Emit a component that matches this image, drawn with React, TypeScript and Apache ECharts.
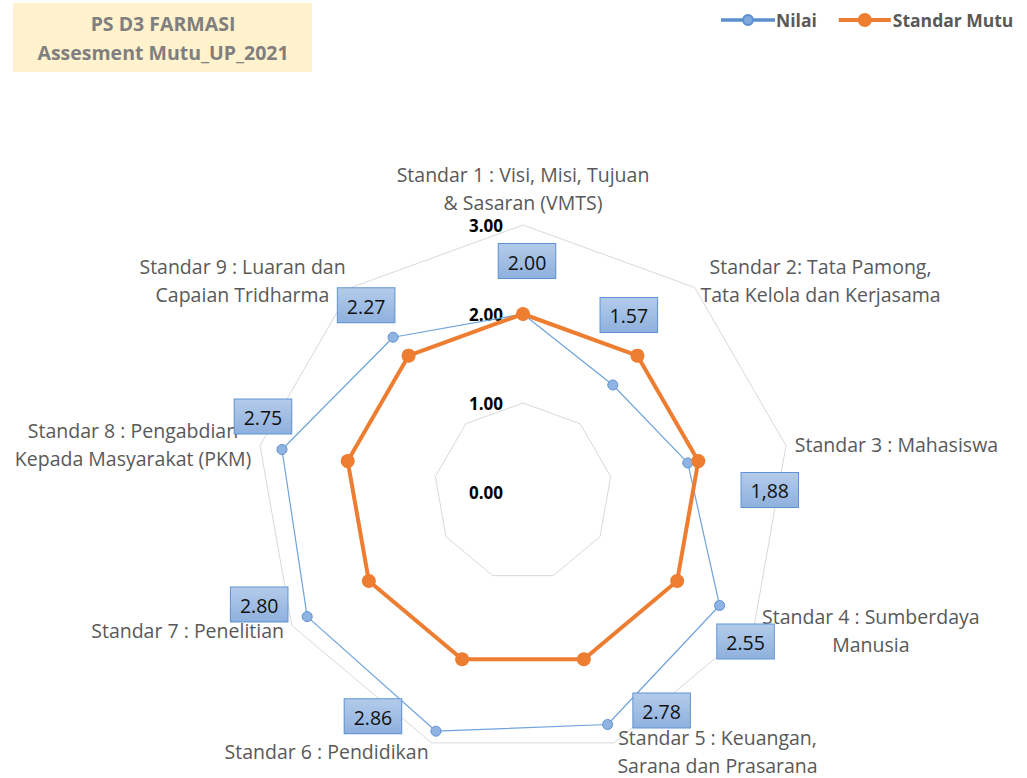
import React, { useEffect, useRef } from 'react';
import * as echarts from 'echarts';

const indicatorNames = [
  'Standar 1 : Visi, Misi, Tujuan\n& Sasaran (VMTS)',
  'Standar 2: Tata Pamong,\nTata Kelola dan Kerjasama',
  'Standar 3 : Mahasiswa',
  'Standar 4 : Sumberdaya\nManusia',
  'Standar 5 : Keuangan,\nSarana dan Prasarana',
  'Standar 6 : Pendidikan',
  'Standar 7 : Penelitian',
  'Standar 8 : Pengabdian\nKepada Masyarakat (PKM)',
  'Standar 9 : Luaran dan\nCapaian Tridharma',
];
const nilai = [2.0, 1.57, 1.88, 2.55, 2.78, 2.86, 2.8, 2.75, 2.27];
const nilaiLabels = ['2.00', '1.57', '1,88', '2.55', '2.78', '2.86', '2.80', '2.75', '2.27'];
const standarMutu = [2, 2, 2, 2, 2, 2, 2, 2, 2];
const axisMin = 0;
const axisMax = 3;
const tickLabels = ['0.00', '1.00', '2.00', '3.00'];
const titleLines = ['PS D3 FARMASI', 'Assesment Mutu_UP_2021'];
const seriesNames = ['Nilai', 'Standar Mutu'];

// label box offsets (styling), relative to each point
const labelOffsets = [
  [4, -53], [16, -70], [82, 27], [26, 36], [54, -14],
  [-63, -15], [-48, -12], [-19, -33], [-27, -32],
];

const FONT = '"Open Sans", "Noto Sans", sans-serif';
const n = indicatorNames.length;
// ECharts lays out radar indicators counter-clockwise; reorder to get clockwise
const order = indicatorNames.map((_, i) => (n - i) % n);
const reorder = <T,>(arr: T[]): T[] => order.map((i) => arr[i]);

export default function App() {
  const ref = useRef<HTMLDivElement>(null);
  useEffect(() => {
    if (!ref.current) return;
    const chart = echarts.init(ref.current, undefined, { renderer: 'svg' });

    const indicator = reorder(indicatorNames).map((name, k) => {
      const ind: any = { name, min: axisMin, max: axisMax };
      if (k === 0) {
        ind.axisLabel = {
          show: true,
          margin: 20,
          fontSize: 17,
          fontWeight: 'bold',
          color: '#000000',
          fontFamily: FONT,
          formatter: (v: number) => tickLabels[Math.round(v)] ?? v.toFixed(2),
        };
      }
      return ind;
    });

    const boxFill = new echarts.graphic.LinearGradient(0, 0, 0, 1, [
      { offset: 0, color: '#B3CBEA' },
      { offset: 1, color: '#8FB1DE' },
    ]);

    const labelSeries = nilai.map((v, i) => ({
      type: 'radar',
      name: 'lbl' + i,
      z: 5,
      symbol: 'circle',
      symbolSize: 1,
      silent: true,
      lineStyle: { width: 0, opacity: 0 },
      itemStyle: { color: 'transparent' },
      label: {
        show: true,
        position: 'inside',
        offset: labelOffsets[i],
        formatter: (p: any) => (p.value === v ? `{box|${nilaiLabels[i]}}` : ''),
        rich: {
          box: {
            backgroundColor: boxFill,
            borderColor: '#5F93D3',
            borderWidth: 1,
            padding: [8, 9, 6, 9],
            fontSize: 19.5,
            lineHeight: 22,
            color: '#111111',
            fontFamily: FONT,
          },
        },
      },
      data: [{ name: 'lbl' + i, value: reorder(nilai) }],
    }));

    const option: any = {
      animation: false,
      backgroundColor: '#ffffff',
      graphic: [
        {
          type: 'group',
          left: 13,
          top: 3,
          children: [
            { type: 'rect', shape: { x: 0, y: 0, width: 299, height: 69 }, style: { fill: '#FFF2CC' } },
            {
              type: 'text',
              x: 150,
              y: 35,
              style: {
                text: titleLines.join('\n'),
                align: 'center',
                verticalAlign: 'middle',
                fontSize: 19.5,
                lineHeight: 29,
                fontWeight: 'bold',
                fill: '#7F7F7F',
                fontFamily: FONT,
              },
            },
          ],
        },
      ],
      legend: {
        left: 716,
        top: 6,
        itemGap: 22,
        itemWidth: 52,
        itemHeight: 14,
        textStyle: { fontSize: 17.5, fontWeight: 'bold', color: '#595959', fontFamily: FONT, padding: [0, 0, 0, -3] },
        data: [
          {
            name: seriesNames[0],
            icon: 'path://M0,4.3 L21.2,4.3 L21.2,5.7 L0,5.7 Z M30.8,4.3 L52,4.3 L52,5.7 L30.8,5.7 Z M31,5 A5,5 0 1 1 21,5 A5,5 0 1 1 31,5 Z',
            itemStyle: { color: '#7FA9DE' },
          },
          {
            name: seriesNames[1],
            icon: 'path://M0,5 L19.5,5 L19.5,9 L0,9 Z M32.5,5 L52,5 L52,9 L32.5,9 Z M33,7 A7,7 0 1 1 19,7 A7,7 0 1 1 33,7 Z',
            itemStyle: { color: '#ED7D31' },
          },
        ],
      },
      radar: {
        center: [523, 492],
        radius: 267,
        startAngle: 90,
        splitNumber: 3,
        shape: 'polygon',
        nameGap: 9,
        axisName: {
          color: '#595959',
          fontSize: 19.5,
          fontFamily: FONT,
          lineHeight: 28,
          formatter: (name: string) => name.split('\n').map((l) => `{c|${l}}`).join('\n'),
          rich: {
            c: { align: 'center', color: '#595959', fontSize: 19.5, fontFamily: FONT, lineHeight: 28 },
          },
        },
        axisLine: { show: false },
        axisTick: { show: false },
        splitLine: { lineStyle: { color: '#D9D9D9', width: 1 } },
        splitArea: { show: false },
        indicator,
      },
      series: [
        {
          type: 'radar',
          name: seriesNames[0],
          z: 2,
          symbol: 'circle',
          symbolSize: 10,
          lineStyle: { color: '#6FA3DC', width: 1.2 },
          itemStyle: { color: '#8FB4E3', borderColor: '#5B8FD0', borderWidth: 1 },
          data: [{ name: seriesNames[0], value: reorder(nilai) }],
        },
        {
          type: 'radar',
          name: seriesNames[1],
          z: 3,
          symbol: 'circle',
          symbolSize: 14,
          lineStyle: { color: '#ED7D31', width: 4 },
          itemStyle: { color: '#ED7D31' },
          data: [{ name: seriesNames[1], value: reorder(standarMutu) }],
        },
        ...labelSeries,
      ],
    };
    chart.setOption(option);
    return () => chart.dispose();
  }, []);
  return (
    <div
      ref={ref}
      style={{ position: 'absolute', left: 0, top: 0, width: 1027, height: 778 }}
    />
  );
}
